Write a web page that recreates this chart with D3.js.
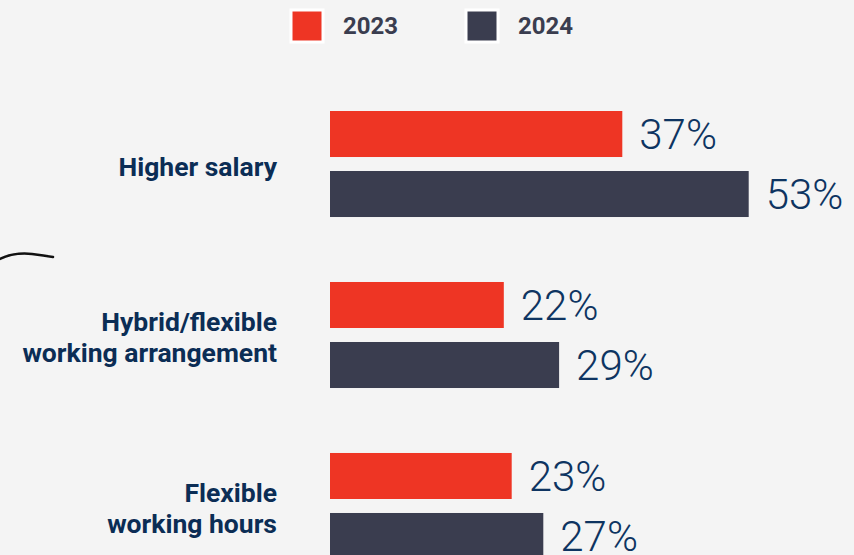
<!DOCTYPE html>
<html>
<head>
<meta charset="utf-8">
<script src="https://d3js.org/d3.v7.min.js"></script>
<style>
  body { margin: 0; background: #f4f4f4; }
  svg { display: block; }
</style>
</head>
<body>
<svg id="chart" width="854" height="555"></svg>
<script>
// data
var categories = ["Higher salary", "Hybrid/flexible working arrangement", "Flexible working hours"];
var labelLines = [["Higher salary"], ["Hybrid/flexible", "working arrangement"], ["Flexible", "working hours"]];
var years = ["2023", "2024"];
var values2023 = [37, 22, 23];
var values2024 = [53, 29, 27];
var colors = ["#ee3524", "#3a3d4f"];

var svg = d3.select("#chart");
var width = +svg.attr("width"), height = +svg.attr("height");

svg.append("rect").attr("width", width).attr("height", height).attr("fill", "#f4f4f4");

var x = d3.scaleLinear().domain([0, 100]).range([330, 1120]);

var y0 = d3.scaleBand()
  .domain(categories)
  .range([111, 559])
  .paddingInner(0.38)
  .paddingOuter(0);

var y1 = d3.scaleBand()
  .domain(years)
  .range([0, y0.bandwidth()])
  .paddingInner(0.2333)
  .paddingOuter(0);

var color = d3.scaleOrdinal().domain(years).range(colors);

var rows = categories.map(function (c, i) {
  return { cat: c, lines: labelLines[i], vals: [
    { year: "2023", v: values2023[i] },
    { year: "2024", v: values2024[i] }
  ]};
});

// legend
var legend = svg.append("g");
var legendX = [291, 466];
years.forEach(function (yr, i) {
  legend.append("rect")
    .attr("x", legendX[i]).attr("y", 10)
    .attr("width", 32).attr("height", 32)
    .attr("fill", color(yr))
    .attr("stroke", "#ffffff")
    .attr("stroke-width", 3);
  legend.append("text")
    .attr("x", legendX[i] + 52).attr("y", 34)
    .attr("font-family", "Roboto, sans-serif")
    .attr("font-weight", 700)
    .attr("font-size", 24)
    .attr("fill", "#3a3d4f")
    .text(yr);
});

// groups
var group = svg.selectAll("g.grp")
  .data(rows)
  .enter().append("g")
  .attr("class", "grp")
  .attr("transform", function (d) { return "translate(0," + y0(d.cat) + ")"; });

group.selectAll("rect")
  .data(function (d) { return d.vals; })
  .enter().append("rect")
  .attr("x", x(0))
  .attr("y", function (d) { return y1(d.year); })
  .attr("width", function (d) { return x(d.v) - x(0); })
  .attr("height", y1.bandwidth())
  .attr("fill", function (d) { return color(d.year); });

group.selectAll("text.val")
  .data(function (d) { return d.vals; })
  .enter().append("text")
  .attr("class", "val")
  .attr("x", function (d) { return x(d.v) + 17; })
  .attr("y", function (d) { return y1(d.year) + y1.bandwidth() / 2 + 15; })
  .attr("font-family", "Roboto, sans-serif")
  .attr("font-weight", 300)
  .attr("font-size", 42)
  .attr("fill", "#0e3461")
  .text(function (d) { return d.v + "%"; });

// category labels
var lh = 31;
group.append("text")
  .attr("text-anchor", "end")
  .attr("font-family", "Roboto, sans-serif")
  .attr("font-weight", 700)
  .attr("font-size", 26.5)
  .attr("fill", "#0b2d55")
  .each(function (d) {
    var t = d3.select(this);
    var mid = y0.bandwidth() / 2;
    var first = mid + 12 - (d.lines.length - 1) * lh / 2;
    d.lines.forEach(function (ln, k) {
      t.append("tspan").attr("x", 277).attr("y", first + k * lh).text(ln);
    });
  });

// little hand-drawn stroke at left edge
svg.append("path")
  .attr("d", "M0,259 C10,254 22,253 32,254 C40,255 47,256 53,257")
  .attr("fill", "none")
  .attr("stroke", "#111")
  .attr("stroke-width", 2.5)
  .attr("stroke-linecap", "round");
</script>
</body>
</html>
